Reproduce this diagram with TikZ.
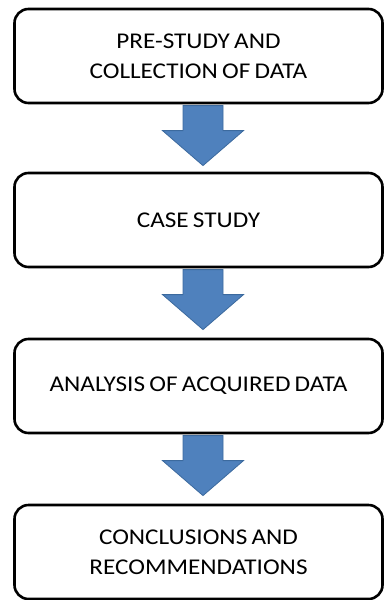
\documentclass[tikz,border=0pt]{standalone}
\usepackage{fontspec}
\setmainfont[FakeStretch=1.12,WordSpace=0.75]{Carlito}
\usetikzlibrary{positioning,calc}
\definecolor{arrowblue}{HTML}{4F81BD}
\definecolor{arrowedge}{HTML}{3C6A9E}

% block arrow hanging from the bottom of a stage box
\newcommand{\stagearrow}[1]{%
  \draw[arrowshape] ($(#1.south)+(-15.5,-1.3)$) -- ++(0,-25) -- ++(-20.5,0)
    -- ++(40.5,-35) -- ++(40.5,35) -- ++(-20.5,0) -- ++(0,25) -- cycle;}

\begin{document}
\begin{tikzpicture}[x=1pt,y=1pt,
    stage/.style={draw, line width=2.6pt, rounded corners=14pt,
      minimum width=368pt, minimum height=94pt, align=center,
      font=\fontsize{22.5}{30}\selectfont},
    arrowshape/.style={draw=arrowedge, fill=arrowblue, line width=0.8pt}]
  \useasboundingbox (0,0) rectangle (384,-600);

  \node[stage] (prestudy) at (198.5,-56) {PRE-STUDY AND\\COLLECTION OF DATA};
  \node[stage] (casestudy) at (198.5,-220) {CASE STUDY};
  \node[stage] (analysis) at (198.5,-386) {ANALYSIS OF ACQUIRED DATA};
  \node[stage] (conclusions) at (198.5,-552) {CONCLUSIONS AND\\RECOMMENDATIONS};

  \stagearrow{prestudy}
  \stagearrow{casestudy}
  \stagearrow{analysis}
\end{tikzpicture}
\end{document}
